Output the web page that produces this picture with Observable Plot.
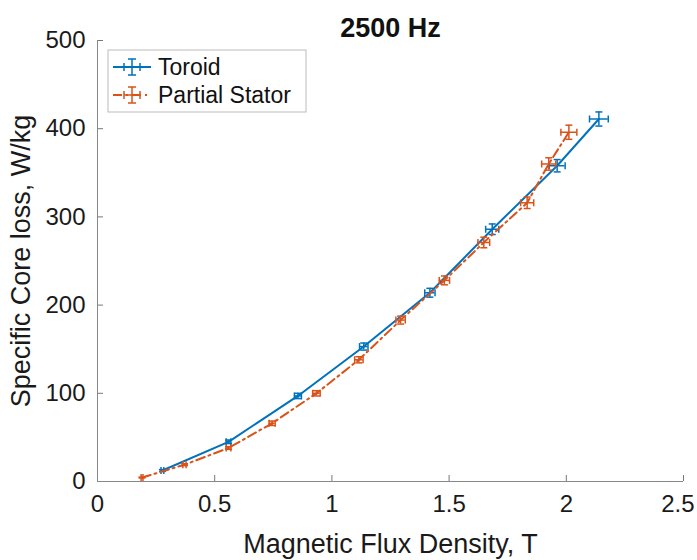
<!DOCTYPE html>
<html><head><meta charset="utf-8">
<script src="https://cdn.jsdelivr.net/npm/d3@7"></script>
<script src="https://cdn.jsdelivr.net/npm/@observablehq/plot@0.6"></script>
<style>body{margin:0;background:#fff;} svg{display:block}</style>
</head><body><div id="chart"></div>
<script>
const titleText = "2500 Hz";
const xLabel = "Magnetic Flux Density, T";
const yLabel = "Specific Core loss, W/kg";
const seriesNames = ["Toroid", "Partial Stator"];
const xTicks = [0, 0.5, 1, 1.5, 2, 2.5];
const yTicks = [0, 100, 200, 300, 400, 500];

const toroidB = [0.277, 0.559, 0.855, 1.136, 1.418, 1.684, 1.961, 2.139];
const toroidLoss = [12.5, 45, 97, 153, 214, 286, 358, 411];
const toroidBErr = [0.006, 0.01, 0.015, 0.018, 0.022, 0.028, 0.034, 0.04];
const toroidLossErr = [1, 2, 3, 4, 5, 6, 7, 8];

const statorB = [0.19, 0.371, 0.559, 0.745, 0.934, 1.115, 1.293, 1.48, 1.648, 1.833, 1.925, 2.011];
const statorLoss = [4.5, 19, 38, 66, 100, 138, 183, 228, 271, 316, 360, 396];
const statorBErr = [0.004, 0.007, 0.01, 0.013, 0.016, 0.018, 0.02, 0.022, 0.025, 0.028, 0.03, 0.034];
const statorLossErr = [0.5, 1, 1.5, 2.5, 3, 3.5, 4.5, 5, 6, 6.5, 7, 8];

const blue = "#0072BD", orange = "#D95319";
const dash = "9,4,2,4";
const FONT = "'Liberation Sans', Arial, Helvetica, sans-serif";

const toroid = toroidB.map((b, i) => ({x: b, y: toroidLoss[i], ex: toroidBErr[i], ey: toroidLossErr[i]}));
const stator = statorB.map((b, i) => ({x: b, y: statorLoss[i], ex: statorBErr[i], ey: statorLossErr[i]}));

const capH = {draw(ctx, size) { const r = Math.sqrt(size / Math.PI); ctx.moveTo(-r, 0); ctx.lineTo(r, 0); }};
const capV = {draw(ctx, size) { const r = Math.sqrt(size / Math.PI); ctx.moveTo(0, -r); ctx.lineTo(0, r); }};

function errMarks(rows, color) {
  return [
    Plot.ruleX(rows, {x: "x", y1: d => d.y - d.ey, y2: d => d.y + d.ey, stroke: color, strokeWidth: 1.5}),
    Plot.ruleY(rows, {y: "y", x1: d => d.x - d.ex, x2: d => d.x + d.ex, stroke: color, strokeWidth: 1.5}),
    Plot.dot(rows, {x: "x", y: d => d.y - d.ey, symbol: capH, r: 3.5, stroke: color, strokeWidth: 1.5, fill: "none"}),
    Plot.dot(rows, {x: "x", y: d => d.y + d.ey, symbol: capH, r: 3.5, stroke: color, strokeWidth: 1.5, fill: "none"}),
    Plot.dot(rows, {x: d => d.x - d.ex, y: "y", symbol: capV, r: 3.5, stroke: color, strokeWidth: 1.5, fill: "none"}),
    Plot.dot(rows, {x: d => d.x + d.ex, y: "y", symbol: capV, r: 3.5, stroke: color, strokeWidth: 1.5, fill: "none"})
  ];
}

const W = 697, H = 560, mL = 97, mR = 14, mT = 40, mB = 79;
const plotW = W - mL - mR, plotH = H - mT - mB;

const chart = Plot.plot({
  width: W, height: H,
  marginLeft: mL, marginRight: mR, marginTop: mT, marginBottom: mB,
  style: {fontFamily: FONT, fontSize: "24px", color: "#1a1a1a", background: "#fff"},
  x: {domain: [0, 2.5]},
  y: {domain: [0, 500]},
  marks: [
    Plot.axisX({ticks: xTicks, tickSize: 0, tickPadding: 13, tickFormat: d => String(d), fontSize: 24,
      label: xLabel, labelAnchor: "center", labelArrow: "none", labelOffset: 71}),
    Plot.axisY({ticks: yTicks, tickSize: 0, tickPadding: 12, fontSize: 24,
      label: yLabel, labelAnchor: "center", labelArrow: "none", labelOffset: 87}),
    Plot.tickX(xTicks, {x: d => d, insetTop: plotH - 6, stroke: "#777"}),
    Plot.tickY(yTicks, {y: d => d, insetRight: plotW - 6, stroke: "#777"}),
    Plot.ruleY([0], {stroke: "#888", strokeWidth: 1}),
    Plot.ruleX([0], {stroke: "#888", strokeWidth: 1}),
    Plot.line(toroid, {x: "x", y: "y", stroke: blue, strokeWidth: 2}),
    ...errMarks(toroid, blue),
    Plot.line(stator, {x: "x", y: "y", stroke: orange, strokeWidth: 2, strokeDasharray: dash}),
    ...errMarks(stator, orange),
    Plot.text([titleText], {frameAnchor: "top", dy: -23, fontWeight: "bold", fontSize: 27, fill: "#111"})
  ]
});

const svg = d3.select(chart);
// axis label font size
svg.selectAll("[aria-label='x-axis label'] text, [aria-label='y-axis label'] text").attr("font-size", 27);
// keep the last x tick label inside the picture
const xTickTexts = svg.selectAll("[aria-label='x-axis tick label'] text").nodes();
if (xTickTexts.length) {
  const last = d3.select(xTickTexts[xTickTexts.length - 1]);
  last.attr("text-anchor", "end").style("text-anchor", "end").attr("dx", 11);
}

// legend
const lg = svg.append("g").attr("font-family", FONT).attr("font-size", 23).attr("text-anchor", "start");
const lx = 108, ly = 50, lw = 198, lh = 62;
lg.append("rect").attr("x", lx).attr("y", ly).attr("width", lw).attr("height", lh)
  .attr("fill", "#fff").attr("stroke", "#bbb").attr("stroke-width", 1);
const entries = [{name: seriesNames[0], color: blue, dash: null}, {name: seriesNames[1], color: orange, dash: dash}];
entries.forEach((e, i) => {
  const cy = ly + 17 + i * 28;
  const g = lg.append("g");
  g.append("line").attr("x1", lx + 5).attr("x2", lx + 43).attr("y1", cy).attr("y2", cy)
    .attr("stroke", e.color).attr("stroke-width", 2).attr("stroke-dasharray", e.dash);
  const cx = lx + 24, r = 8, c = 4;
  g.append("path").attr("d",
    `M${cx - r},${cy}H${cx + r}M${cx},${cy - r}V${cy + r}` +
    `M${cx - r},${cy - c}V${cy + c}M${cx + r},${cy - c}V${cy + c}` +
    `M${cx - c},${cy - r}H${cx + c}M${cx - c},${cy + r}H${cx + c}`)
    .attr("stroke", e.color).attr("stroke-width", 1.5).attr("fill", "none");
  g.append("text").attr("x", lx + 50).attr("y", cy).attr("dy", "0.35em").attr("text-anchor", "start")
    .attr("fill", "#111").text(e.name);
});

document.getElementById("chart").appendChild(chart);
</script>
</body></html>
